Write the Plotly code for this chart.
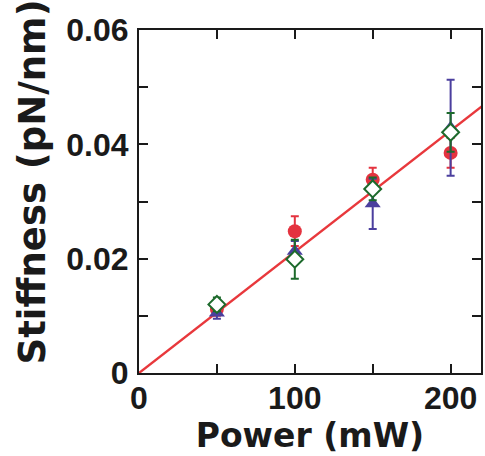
import plotly.graph_objects as go

# Data
power = [50, 100, 150, 200]

red_vals = [0.0112, 0.0248, 0.0338, 0.0385]
red_err = [0.0012, 0.0026, 0.0021, 0.0026]

blue_vals = [0.0105, 0.0213, 0.0296, 0.0429]
blue_err = [0.0010, 0.0018, 0.0044, 0.0084]

green_vals = [0.0120, 0.0199, 0.0322, 0.0421]
green_err = [0.0012, 0.0034, 0.0020, 0.0034]

fit_x = [0, 220]
fit_slope = 0.000212
fit_y = [fit_slope * v for v in fit_x]

x_tickvals = [0, 50, 100, 150, 200]
x_ticktext = ["0", "", "100", "", "200"]
y_tickvals = [0, 0.01, 0.02, 0.03, 0.04, 0.05, 0.06]
y_ticktext = ["0", "", "0.02", "", "0.04", "", "0.06"]

x_title = "Power (mW)"
y_title = "Stiffness (pN/nm)"

RED = "#e4333f"
BLUE = "#4b3f9e"
GREEN = "#1d6a2c"
LINE_RED = "#e8383c"
INK = "#1a1a1a"

fig = go.Figure()

fig.add_trace(go.Scatter(x=fit_x, y=fit_y, mode="lines",
                         line=dict(color=LINE_RED, width=2.4), showlegend=False))

fig.add_trace(go.Scatter(
    x=power, y=red_vals, mode="markers",
    marker=dict(symbol="circle", size=14, color=RED, line=dict(width=0)),
    error_y=dict(type="data", array=red_err, color=RED, thickness=2, width=4),
    showlegend=False))

fig.add_trace(go.Scatter(
    x=power, y=blue_vals, mode="markers",
    marker=dict(symbol="triangle-up", size=14, color=BLUE, line=dict(width=0)),
    error_y=dict(type="data", array=blue_err, color=BLUE, thickness=2, width=4),
    showlegend=False))

fig.add_trace(go.Scatter(
    x=power, y=green_vals, mode="markers",
    marker=dict(symbol="diamond", size=13, color="white", line=dict(width=2, color=GREEN)),
    error_y=dict(type="data", array=green_err, color=GREEN, thickness=2, width=4),
    showlegend=False))

tick_font = dict(family="Liberation Sans, Arial", size=32, color=INK, weight="bold")
xtitle_font = dict(family="DejaVu Sans", size=33, color=INK, weight="bold")
ytitle_font = dict(family="DejaVu Sans", size=37, color=INK, weight="bold")

fig.update_layout(
    width=485, height=456,
    margin=dict(l=139, r=2, t=30, b=83),
    paper_bgcolor="white", plot_bgcolor="white",
    font=dict(family="Liberation Sans, Arial", color=INK),
    xaxis=dict(
        range=[0, 219.5], tickvals=x_tickvals, ticktext=x_ticktext,
        ticks="inside", ticklen=9, tickwidth=2, tickcolor=INK,
        showline=True, linewidth=2, linecolor=INK, mirror="ticks",
        showgrid=False, zeroline=False, tickfont=tick_font,
        title=dict(text=x_title, font=xtitle_font, standoff=6),
        ticklabelstandoff=-4,
    ),
    yaxis=dict(
        range=[0, 0.06], tickvals=y_tickvals, ticktext=y_ticktext,
        ticks="inside", ticklen=9, tickwidth=2, tickcolor=INK,
        showline=True, linewidth=2, linecolor=INK, mirror="ticks",
        showgrid=False, zeroline=False, tickfont=tick_font,
        ticklabelstandoff=2,
    ),
    annotations=[dict(
        text=y_title, textangle=-90, font=ytitle_font,
        xref="paper", yref="paper", x=(32 - 139) / 344, y=(373.3 - 182) / 343.3,
        xanchor="center", yanchor="middle", showarrow=False,
    )],
)

fig.write_html("out.html", post_script="document.body.style.margin='0';",
               config={"displayModeBar": False})
